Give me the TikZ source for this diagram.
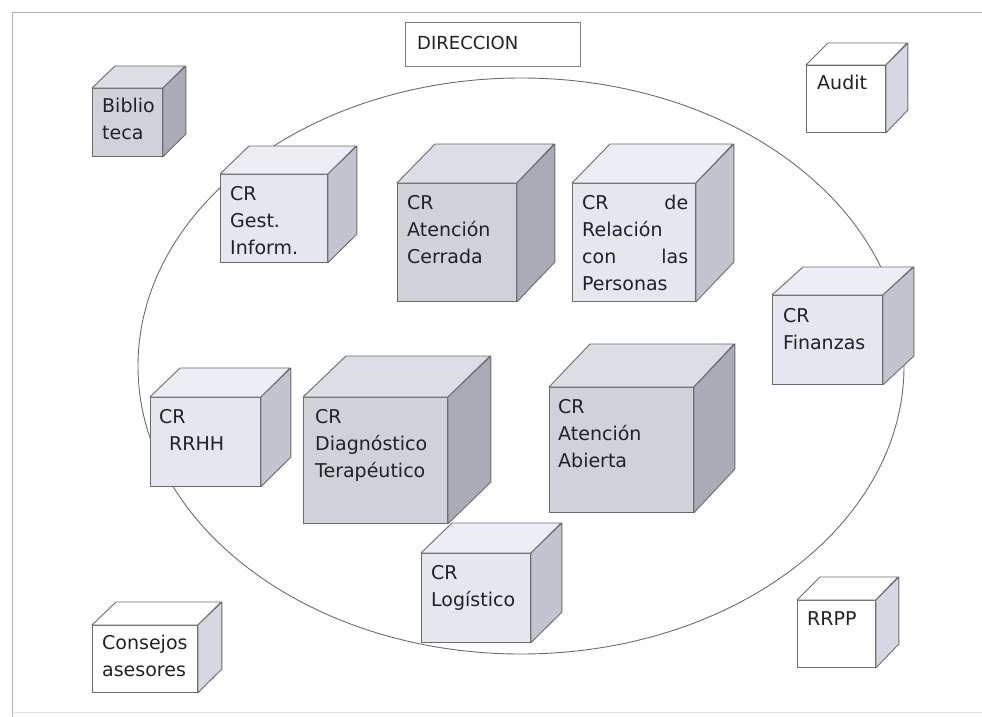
\documentclass[tikz,border=0pt]{standalone}
\usepackage{fontspec}
\setmainfont{DejaVu Sans}

\definecolor{edgegray}{HTML}{6C6C70}
\definecolor{inkgray}{HTML}{222222}
\definecolor{grayfront}{HTML}{D0D2DA}
\definecolor{graytop}{HTML}{DCDEE5}
\definecolor{grayside}{HTML}{A9ACB6}
\definecolor{lightfront}{HTML}{E5E7EF}
\definecolor{lighttop}{HTML}{ECEEF4}
\definecolor{lightside}{HTML}{C2C5CF}
\definecolor{whiteside}{HTML}{D5D8E2}

\begin{document}
\begin{tikzpicture}[x=1pt, y=-1pt,
    face/.style={draw=edgegray, line width=0.9pt, inner sep=0pt, anchor=north west},
    edge/.style={draw=edgegray, line width=0.9pt, line join=round},
    txt/.style={anchor=base west, inner sep=0pt, text width=130pt, align=left,
        text=inkgray, font=\fontsize{19}{27}\selectfont}]

    \useasboundingbox (0,0) rectangle (982,717);

    % frame of the page
    \draw[gray!60, line width=0.8pt] (12,717) -- (12,12) -- (982,12);
    \draw[gray!25, line width=0.6pt] (12,712) -- (982,712);

    % big ellipse
    \draw[edgegray, line width=0.9pt] (521,366) ellipse [x radius=383, y radius=288];

    % DIRECCION
    \node[face, fill=white, draw=gray, minimum width=175pt, minimum height=44pt] (direccion) at (405,22) {};
    \node[txt, font=\fontsize{18}{24}\selectfont] (direccionT) at ([shift={(12,28)}]direccion.north west) {DIRECCION};

    % Biblioteca
    \node[face, fill=grayfront, minimum width=70pt, minimum height=68pt] (bib) at (92,88) {};
    \filldraw[edge, fill=graytop] (bib.north west) -- ++(23,-22) -- ++(70,0) -- (bib.north east) -- cycle;
    \filldraw[edge, fill=grayside] (bib.north east) -- ++(23,-22) -- ++(0,68) -- (bib.south east) -- cycle;
    \node[txt] (bibT) at ([shift={(10,24)}]bib.north west) {Biblio\\teca};

    % CR Gest. Inform.
    \node[face, fill=lightfront, minimum width=107pt, minimum height=88pt] (gest) at (220,174) {};
    \filldraw[edge, fill=lighttop] (gest.north west) -- ++(29,-28) -- ++(107,0) -- (gest.north east) -- cycle;
    \filldraw[edge, fill=lightside] (gest.north east) -- ++(29,-28) -- ++(0,88) -- (gest.south east) -- cycle;
    \node[txt] (gestT) at ([shift={(10,26)}]gest.north west) {CR\\Gest.\\Inform.};

    % CR Atencion Cerrada
    \node[face, fill=grayfront, minimum width=119pt, minimum height=118pt] (cerrada) at (397,183) {};
    \filldraw[edge, fill=graytop] (cerrada.north west) -- ++(38,-39) -- ++(119,0) -- (cerrada.north east) -- cycle;
    \filldraw[edge, fill=grayside] (cerrada.north east) -- ++(38,-39) -- ++(0,118) -- (cerrada.south east) -- cycle;
    \node[txt] (cerradaT) at ([shift={(10,26)}]cerrada.north west) {CR\\Atención\\Cerrada};

    % CR de Relacion con las Personas
    \node[face, fill=lightfront, minimum width=123pt, minimum height=118pt] (relacion) at (572,183) {};
    \filldraw[edge, fill=lighttop] (relacion.north west) -- ++(38,-39) -- ++(123,0) -- (relacion.north east) -- cycle;
    \filldraw[edge, fill=lightside] (relacion.north east) -- ++(38,-39) -- ++(0,118) -- (relacion.south east) -- cycle;
    \node[txt, text width=106pt] (relacionT) at ([shift={(10,26)}]relacion.north west)
        {\makebox[106pt][s]{CR\hfill de}\\Relación\\\makebox[106pt][s]{con\hfill las}\\Personas};

    % Audit
    \node[face, fill=white, minimum width=79pt, minimum height=67pt] (audit) at (806,65) {};
    \filldraw[edge, fill=white] (audit.north west) -- ++(22,-22) -- ++(79,0) -- (audit.north east) -- cycle;
    \filldraw[edge, fill=whiteside] (audit.north east) -- ++(22,-22) -- ++(0,67) -- (audit.south east) -- cycle;
    \node[txt] (auditT) at ([shift={(11,24)}]audit.north west) {Audit};

    % CR Finanzas
    \node[face, fill=lightfront, minimum width=110pt, minimum height=89pt] (finanzas) at (772,295) {};
    \filldraw[edge, fill=lighttop] (finanzas.north west) -- ++(31,-28) -- ++(110,0) -- (finanzas.north east) -- cycle;
    \filldraw[edge, fill=lightside] (finanzas.north east) -- ++(31,-28) -- ++(0,89) -- (finanzas.south east) -- cycle;
    \node[txt] (finanzasT) at ([shift={(11,27)}]finanzas.north west) {CR\\Finanzas};

    % CR RRHH
    \node[face, fill=lightfront, minimum width=110pt, minimum height=89pt] (rrhh) at (150,397) {};
    \filldraw[edge, fill=lighttop] (rrhh.north west) -- ++(30,-29) -- ++(110,0) -- (rrhh.north east) -- cycle;
    \filldraw[edge, fill=lightside] (rrhh.north east) -- ++(30,-29) -- ++(0,89) -- (rrhh.south east) -- cycle;
    \node[txt] (rrhhT) at ([shift={(9,26)}]rrhh.north west) {CR\\\hspace*{10pt}RRHH};

    % CR Diagnostico Terapeutico
    \node[face, fill=grayfront, minimum width=144pt, minimum height=126pt] (diag) at (303,397) {};
    \filldraw[edge, fill=graytop] (diag.north west) -- ++(43,-41) -- ++(144,0) -- (diag.north east) -- cycle;
    \filldraw[edge, fill=grayside] (diag.north east) -- ++(43,-41) -- ++(0,126) -- (diag.south east) -- cycle;
    \node[txt] (diagT) at ([shift={(12,26)}]diag.north west) {CR\\Diagnóstico\\Terapéutico};

    % CR Atencion Abierta
    \node[face, fill=grayfront, minimum width=144pt, minimum height=125pt] (abierta) at (549,387) {};
    \filldraw[edge, fill=graytop] (abierta.north west) -- ++(41,-43) -- ++(144,0) -- (abierta.north east) -- cycle;
    \filldraw[edge, fill=grayside] (abierta.north east) -- ++(41,-43) -- ++(0,125) -- (abierta.south east) -- cycle;
    \node[txt] (abiertaT) at ([shift={(9,26)}]abierta.north west) {CR\\Atención\\Abierta};

    % CR Logistico
    \node[face, fill=lightfront, minimum width=109pt, minimum height=89pt] (logis) at (421,553) {};
    \filldraw[edge, fill=lighttop] (logis.north west) -- ++(31,-30) -- ++(109,0) -- (logis.north east) -- cycle;
    \filldraw[edge, fill=lightside] (logis.north east) -- ++(31,-30) -- ++(0,89) -- (logis.south east) -- cycle;
    \node[txt] (logisT) at ([shift={(10,26)}]logis.north west) {CR\\Logístico};

    % Consejos asesores
    \node[face, fill=white, minimum width=105pt, minimum height=67pt] (consejos) at (92,625) {};
    \filldraw[edge, fill=white] (consejos.north west) -- ++(24,-23) -- ++(105,0) -- (consejos.north east) -- cycle;
    \filldraw[edge, fill=whiteside] (consejos.north east) -- ++(24,-23) -- ++(0,67) -- (consejos.south east) -- cycle;
    \node[txt] (consejosT) at ([shift={(10,24)}]consejos.north west) {Consejos\\asesores};

    % RRPP
    \node[face, fill=white, minimum width=78pt, minimum height=67pt] (rrpp) at (797,600) {};
    \filldraw[edge, fill=white] (rrpp.north west) -- ++(23,-23) -- ++(78,0) -- (rrpp.north east) -- cycle;
    \filldraw[edge, fill=whiteside] (rrpp.north east) -- ++(23,-23) -- ++(0,67) -- (rrpp.south east) -- cycle;
    \node[txt] (rrppT) at ([shift={(10,25)}]rrpp.north west) {RRPP};

\end{tikzpicture}
\end{document}
